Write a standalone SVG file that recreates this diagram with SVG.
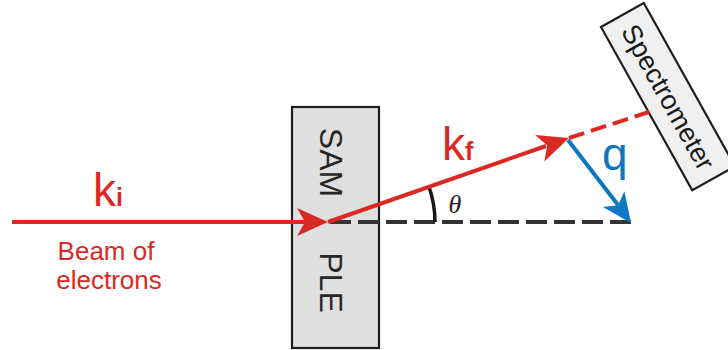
<svg xmlns="http://www.w3.org/2000/svg" xmlns:xlink="http://www.w3.org/1999/xlink" width="728" height="350" viewBox="0 0 728 350">
<style>
.box{stroke:#1e1e1e;stroke-width:2.2}
.lbl{font-family:"Liberation Sans",Arial,sans-serif}
.red{fill:#dc2822}
.blue{fill:#0a78c2}
.dark{fill:#262626}
.beam{stroke:#dc2822;stroke-width:4;fill:none}
.qv{stroke:#0a78c2;stroke-width:4;fill:none}
.ref{stroke:#333;stroke-width:4;fill:none;stroke-dasharray:21 7}
</style>
<defs>
<path id="ah" d="M0,0 L-31,-14 L-23,0 L-31,14 Z"/>
</defs>
<rect width="728" height="350" fill="#fff"/>
<g id="sample">
<rect class="box" x="292" y="107" width="87" height="241" fill="#dfdfdf"/>
<text class="lbl dark" font-size="32" text-anchor="middle" transform="translate(320,162.5) rotate(90)">SAM</text>
<text class="lbl dark" font-size="32" text-anchor="middle" transform="translate(320,282.5) rotate(90)">PLE</text>
</g>
<g id="spectrometer" transform="translate(601,27) rotate(60.8)">
<rect class="box" x="0" y="-49" width="187" height="49" fill="#f0f0f0"/>
<text class="lbl" fill="#1a1a1a" font-size="27" text-anchor="middle" x="94" y="-15">Spectrometer</text>
</g>
<g id="connectors">
<line class="ref" x1="330" y1="222" x2="631" y2="222"/>
<path d="M435,222 A107,107 0 0 0 429,186.8" fill="none" stroke="#1a1a1a" stroke-width="3.5"/>
<line class="beam" x1="12" y1="222" x2="305" y2="222"/>
<use href="#ah" class="red" transform="translate(328,222)"/>
<line class="beam" x1="328" y1="222" x2="546" y2="146"/>
<use href="#ah" class="red" transform="translate(569,138) rotate(-19.2)"/>
<line class="beam" x1="569" y1="138" x2="649" y2="112" stroke-dasharray="16 7"/>
<line class="qv" x1="568" y1="140" x2="618" y2="205"/>
<use href="#ah" class="blue" transform="translate(631,223) rotate(53.9) scale(0.95)"/>
</g>
<g id="labels">
<text class="lbl red" x="93" y="206" font-size="46">k<tspan font-size="25" font-weight="bold">i</tspan></text>
<text class="lbl red" x="442" y="160" font-size="46">k<tspan font-size="25" font-weight="bold">f</tspan></text>
<text class="lbl blue" x="602" y="170" font-size="46">q</text>
<text x="455" y="213" font-family="'Liberation Serif',serif" font-style="italic" font-size="26" fill="#222" text-anchor="middle">θ</text>
<text class="lbl red" font-size="26" text-anchor="middle" x="106" y="260">Beam of</text>
<text class="lbl red" font-size="26" text-anchor="middle" x="109" y="289">electrons</text>
</g>
</svg>
